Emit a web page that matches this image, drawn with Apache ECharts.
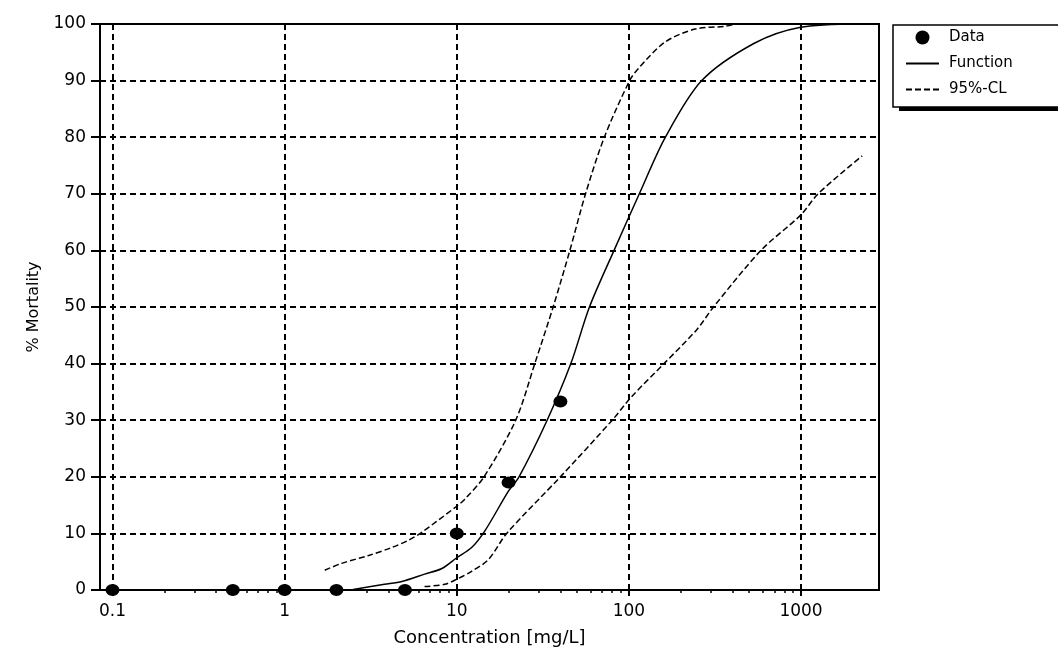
<!DOCTYPE html>
<html>
<head>
<meta charset="utf-8">
<script src="https://cdn.jsdelivr.net/npm/echarts@6/dist/echarts.min.js"></script>
<style>
  html, body { margin: 0; padding: 0; background: #fff; }
  #chart { width: 1058px; height: 652px; }
</style>
</head>
<body>
<div id="chart"></div>
<script>
// measured points
let concentration = [0.1, 0.5, 1, 2, 5, 10, 20, 40]
let mortality = [0, 0, 0, 0, 0, 10, 19, 33.3]

// fitted function
let fnX = [2.5, 3.8, 4.8, 6.5, 8.2, 10, 12.2, 14.6, 20, 23, 33.5, 46, 59, 82, 115, 163, 265, 535, 980, 2200]
let fnY = [0.1, 1.0, 1.5, 2.8, 3.8, 5.7, 7.5, 10.5, 17.5, 20, 30, 40, 50, 60, 70, 80, 90, 96.6, 99.4, 100]

// 95% confidence limits
let upX = [1.71, 2.14, 3.08, 4.19, 5.25, 6.26, 10, 11.1, 14.4, 22, 28.4, 36.3, 45.4, 56, 72, 101, 114, 162, 242, 363, 420]
let upY = [3.5, 4.7, 6.1, 7.5, 8.8, 10.2, 14.8, 16, 20, 30, 40, 50, 60, 70, 80, 90, 92.2, 96.8, 99.1, 99.6, 100]
let loX = [6.5, 8.5, 10, 12.2, 15.3, 19.5, 40, 80, 104, 160, 248, 310, 585, 1000, 1256, 2266]
let loY = [0.6, 1.0, 1.9, 3.3, 5.4, 10, 20, 30, 34.2, 40, 46, 50, 60, 66.3, 70, 76.7]

let minorTicks = [0.2, 0.3, 0.4, 0.5, 0.6, 0.7, 0.8, 0.9, 2, 3, 4, 5, 6, 7, 8, 9,
  20, 30, 40, 50, 60, 70, 80, 90, 200, 300, 400, 500, 600, 700, 800, 900]

let font = "DejaVu Sans"
let xMin = 0.0846, xMax = 2838

function zip(a, b) {
  return a.map((v, i) => [v, b[i]])
}

let gridLine = { show: true, lineStyle: { color: "#000", width: 2, type: [6, 4] } }
let hideSymbol = { opacity: 0 }

let option = {
  animation: false,
  backgroundColor: "#fff",
  textStyle: { fontFamily: font, color: "#000" },
  grid: { left: 100, top: 24, right: 179, bottom: 61, show: true, borderColor: "#000", borderWidth: 2, backgroundColor: "transparent" },
  graphic: [{
    // drop shadow under the legend box
    type: "rect",
    z: 1,
    shape: { x: 899, y: 29, width: 200, height: 82 },
    style: { fill: "#000" }
  }],
  legend: {
    orient: "vertical",
    left: 893,
    top: 25,
    z: 10,
    padding: [5, 70, 10, 12],
    itemGap: 11,
    itemWidth: 33,
    itemHeight: 14,
    backgroundColor: "#fff",
    borderColor: "#000",
    borderWidth: 1.5,
    textStyle: { fontFamily: font, fontSize: 15, color: "#000", padding: [0, 0, 0, 5] },
    data: [
      { name: "Data", icon: "circle", itemStyle: { color: "#000", opacity: 1 } },
      { name: "Function", itemStyle: hideSymbol },
      { name: "95%-CL", itemStyle: hideSymbol }
    ]
  },
  xAxis: [{
    type: "log",
    min: xMin,
    max: xMax,
    name: "Concentration [mg/L]",
    nameLocation: "middle",
    nameGap: 39,
    nameTextStyle: { fontFamily: font, fontSize: 18, color: "#000" },
    axisLine: { show: true, onZero: false, lineStyle: { color: "#000", width: 2 } },
    axisTick: { show: true, length: 6, lineStyle: { color: "#000", width: 2 } },
    axisLabel: {
      showMinLabel: false, showMaxLabel: false, margin: 13,
      fontFamily: font, fontSize: 17, color: "#000",
      formatter: (v) => String(v)
    },
    splitLine: gridLine
  }, {
    type: "log",
    min: xMin,
    max: xMax,
    position: "bottom",
    axisLine: { show: false },
    axisLabel: { show: false },
    splitLine: { show: false },
    axisTick: { show: true, length: 3, customValues: minorTicks, lineStyle: { color: "#000", width: 1.5 } }
  }],
  yAxis: {
    type: "value",
    min: 0,
    max: 100,
    interval: 10,
    name: "% Mortality",
    nameLocation: "middle",
    nameGap: 58,
    nameTextStyle: { fontFamily: font, fontSize: 16, color: "#000" },
    axisLine: { show: true, lineStyle: { color: "#000", width: 2 } },
    axisTick: { show: true, length: 9, lineStyle: { color: "#000", width: 2 } },
    axisLabel: { margin: 14, fontFamily: font, fontSize: 17, color: "#000" },
    splitLine: gridLine
  },
  series: [
    {
      name: "Data",
      type: "scatter",
      data: zip(concentration, mortality),
      symbol: "circle",
      symbolSize: [14, 12],
      itemStyle: { color: "#000", opacity: 1 },
      clip: false,
      z: 5
    },
    {
      name: "Function",
      type: "line",
      data: zip(fnX, fnY),
      showSymbol: false,
      symbol: "none",
      smooth: 0.3,
      itemStyle: { color: "#000" },
      lineStyle: { color: "#000", width: 1.5 },
      z: 4
    },
    {
      name: "95%-CL",
      type: "line",
      data: zip(upX, upY),
      showSymbol: false,
      symbol: "none",
      smooth: 0.3,
      itemStyle: { color: "#000" },
      lineStyle: { color: "#000", width: 1.5, type: [6, 3] },
      z: 4
    },
    {
      name: "95%-CL",
      type: "line",
      data: zip(loX, loY),
      showSymbol: false,
      symbol: "none",
      smooth: 0.3,
      itemStyle: { color: "#000" },
      lineStyle: { color: "#000", width: 1.5, type: [6, 3] },
      z: 4
    }
  ]
}

let chart = echarts.init(document.getElementById("chart"))
chart.setOption(option)
</script>
</body>
</html>
